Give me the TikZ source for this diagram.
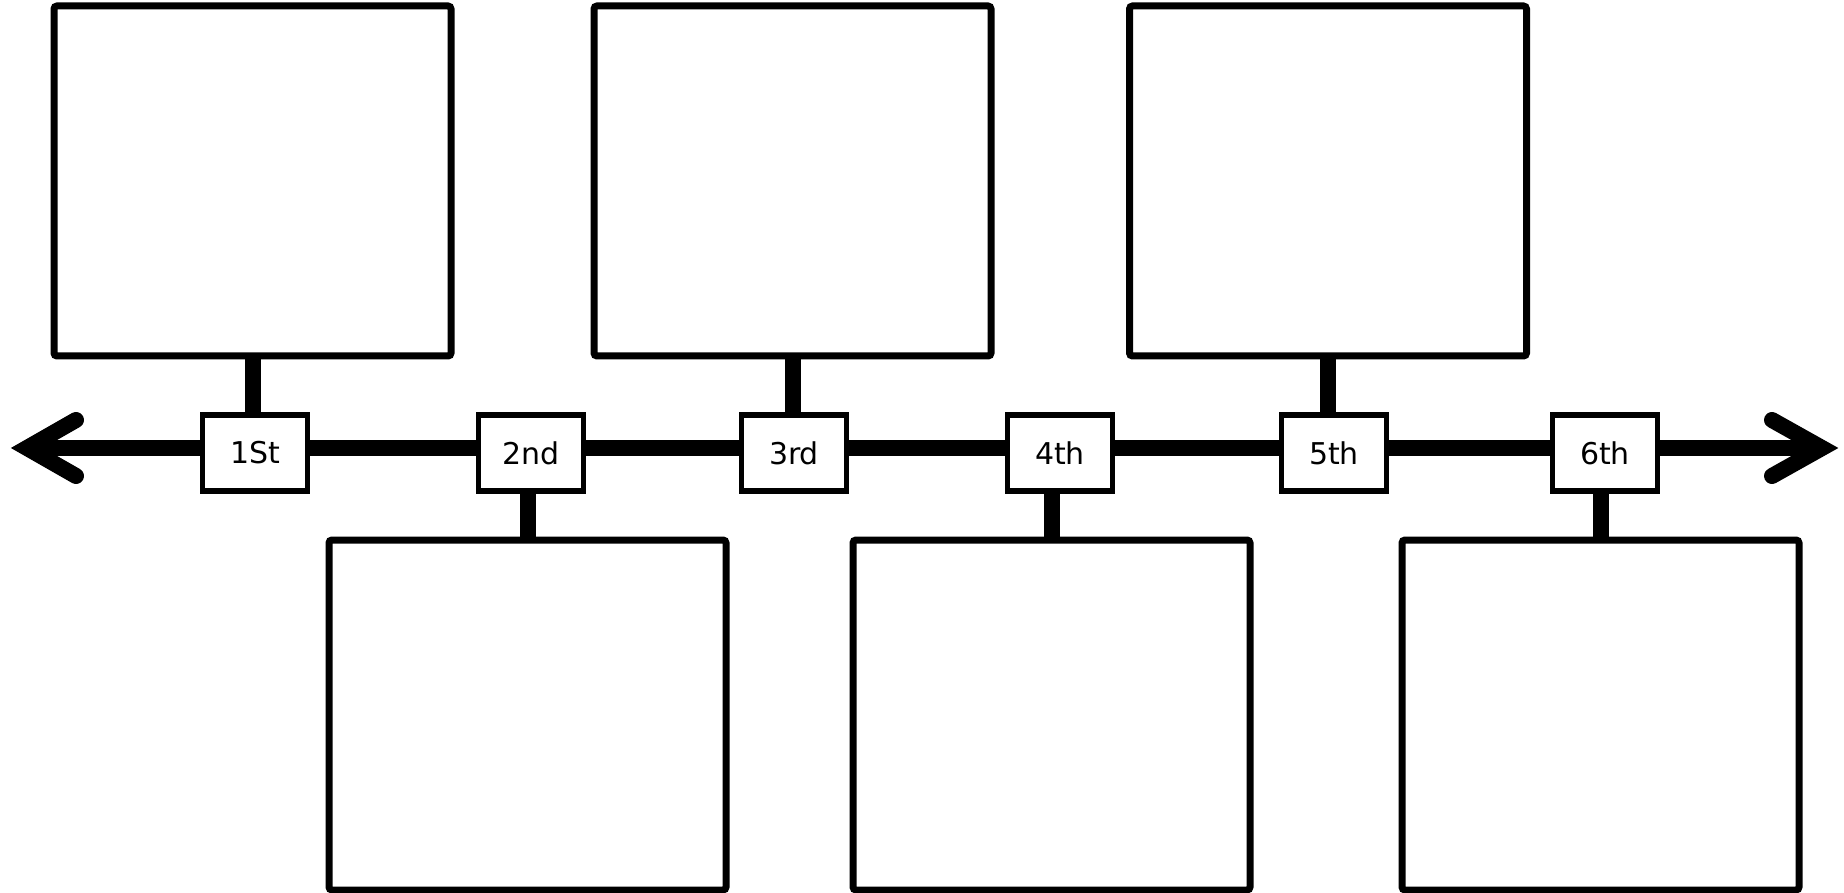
\documentclass[tikz,border=0pt]{standalone}
\usepackage{fontspec}
\setmainfont{DejaVu Sans}
\begin{document}
\begin{tikzpicture}[
        x=0.5pt, y=-0.5pt,
        bigbox/.style={draw, rounded corners=1.5pt, line width=3.5pt, minimum width=198.5pt, minimum height=175pt, inner sep=0pt},
        tag/.style={draw, fill=white, line width=2.75pt, minimum width=52.5pt, minimum height=38pt, inner sep=0pt, font=\fontsize{15}{18}\selectfont},
        stem/.style={line width=8pt},
        axis/.style={line width=8pt},
        tip/.style={line width=8pt, line cap=round, miter limit=10},
    ]
    \useasboundingbox (0,0) rectangle (1844,893);
    % boxes above and below the line
    \node[bigbox] (t1) at (252.5,181) {};
    \node[bigbox] (t2) at (792.5,181) {};
    \node[bigbox] (t3) at (1328,181) {};
    \node[bigbox] (b1) at (527.5,715) {};
    \node[bigbox] (b2) at (1051.5,715) {};
    \node[bigbox] (b3) at (1600.5,715) {};
    % labels on the line
    \node[tag] (l1) at (255,453) {1St};
    \node[tag] (l2) at (531,453) {2nd};
    \node[tag] (l3) at (794,453) {3rd};
    \node[tag] (l4) at (1060,453) {4th};
    \node[tag] (l5) at (1334,453) {5th};
    \node[tag] (l6) at (1605,453) {6th};
    % the line with its two heads
    \coordinate (ltip) at (27,448);
    \coordinate (rtip) at (1822,448);
    \draw[tip] (76,420) -- (ltip) -- (76,476);
    \draw[tip] (1772,420) -- (rtip) -- (1772,476);
    \draw[axis] (ltip) -- (ltip -| l1.west);
    \foreach \a/\b in {l1/l2,l2/l3,l3/l4,l4/l5,l5/l6}
        \draw[axis] (ltip -| \a.east) -- (ltip -| \b.west);
    \draw[axis] (ltip -| l6.east) -- (rtip);
    % stems
    \foreach \bx/\lb in {t1/l1,t2/l3,t3/l5}
        \draw[stem] (\bx.south) -- (\bx.south |- \lb.north);
    \foreach \bx/\lb in {b1/l2,b2/l4,b3/l6}
        \draw[stem] (\bx.north |- \lb.south) -- (\bx.north);
\end{tikzpicture}
\end{document}
